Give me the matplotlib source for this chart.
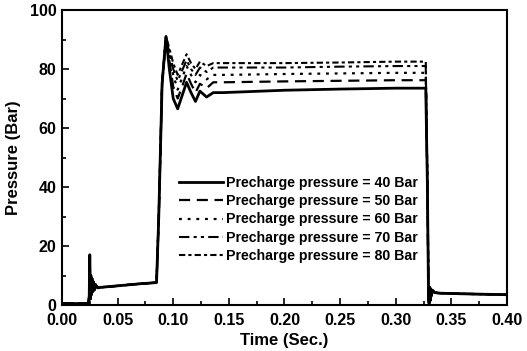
"""Accumulator pressure response for several precharge pressures."""
import matplotlib
matplotlib.use("Agg")
from matplotlib import pyplot as plt
from matplotlib.ticker import MultipleLocator

# time / pressure (s, bar)
t_start = [0.000, 0.022, 0.0235, 0.0245, 0.0250, 0.0255, 0.0260, 0.0265, 0.0270, 0.0275,
           0.0280, 0.0290, 0.0300, 0.0320, 0.0350, 0.0500, 0.0700, 0.0850, 0.0870, 0.0900, 0.0935]
p_start = [0.5, 0.5, 0.3, 3, 17, 2, 10, 3.5, 9, 4.5,
           8, 5, 7, 5.8, 6, 6.5, 7.2, 7.6, 30, 75, 91]

t_settle = [0.0965, 0.100, 0.104, 0.108, 0.112, 0.116, 0.120, 0.124, 0.130, 0.136,
            0.145, 0.200, 0.250, 0.300, 0.327]
p_40 = [80, 70, 66.5, 71, 75.5, 72, 69, 72.5, 70.5, 72, 72, 72.8, 73.2, 73.5, 73.5]
p_50 = [83, 74, 70, 74, 78.5, 75, 72, 75, 73.5, 75.5, 75.5, 75.8, 76, 76.2, 76.2]
p_60 = [85, 78, 73, 77, 81, 78, 75.5, 78, 76.5, 78, 78, 78.3, 78.5, 78.7, 78.7]
p_70 = [86, 80, 76, 79.5, 83, 80, 78, 80.5, 79, 80.5, 80.5, 80.5, 80.8, 81, 81]
p_80 = [87, 82, 78, 81.5, 85, 82, 80, 82.5, 81, 82, 82, 82, 82.2, 82.5, 82.5]

t_end = [0.3285, 0.3295, 0.3300, 0.3305, 0.3310, 0.3315, 0.332, 0.333, 0.335, 0.340, 0.360, 0.400]
p_end = [40, 2, 0.5, 6, 1.5, 5.5, 3, 5, 4.2, 4.0, 3.8, 3.5]

labels = ["Precharge pressure = 40 Bar", "Precharge pressure = 50 Bar",
          "Precharge pressure = 60 Bar", "Precharge pressure = 70 Bar",
          "Precharge pressure = 80 Bar"]
settle_list = [p_40, p_50, p_60, p_70, p_80]
styles = ["-", (0, (5, 3)), (0, (1.3, 2.6)), (0, (5, 2, 1.5, 2, 1.5, 2)), (0, (3, 1.5, 1.5, 1.5))]
widths = [2.0, 1.6, 1.6, 1.5, 1.5]

plt.rcParams["font.family"] = ["Liberation Sans", "DejaVu Sans"]
plt.rcParams["font.weight"] = "bold"

fig = plt.figure(figsize=(5.27, 3.51), dpi=100)
ax = fig.add_axes([0.1176, 0.131, 0.8444, 0.8405])
for count, p_settle in enumerate(settle_list):
    ax.plot(t_start + t_settle + t_end, p_start + p_settle + p_end,
            color="black", linestyle=styles[count], linewidth=widths[count], label=labels[count])

ax.set_xlim(0, 0.40)
ax.set_ylim(0, 100)
ax.xaxis.set_major_locator(MultipleLocator(0.05))
ax.xaxis.set_minor_locator(MultipleLocator(0.025))
ax.yaxis.set_major_locator(MultipleLocator(20))
ax.yaxis.set_minor_locator(MultipleLocator(10))
ax.xaxis.set_major_formatter(lambda v, pos: f"{v:.2f}")
ax.tick_params(which="both", direction="in", labelsize=11.5, width=1.2)
ax.tick_params(which="major", length=5)
ax.tick_params(which="minor", length=3)
ax.tick_params(axis="x", pad=6)
ax.tick_params(axis="y", pad=4)
for spine in ax.spines.values():
    spine.set_linewidth(1.5)
ax.set_xlabel("Time (Sec.)", fontsize=12, fontweight="bold", labelpad=3)
ax.set_ylabel("Pressure (Bar)", fontsize=12, fontweight="bold", labelpad=6)
ax.legend(loc="center left", bbox_to_anchor=(0.25, 0.29), frameon=False, fontsize=10.2,
          handlelength=3.1, handletextpad=0.2, labelspacing=0.3, borderaxespad=0)
fig.savefig("out.png", dpi=100)
